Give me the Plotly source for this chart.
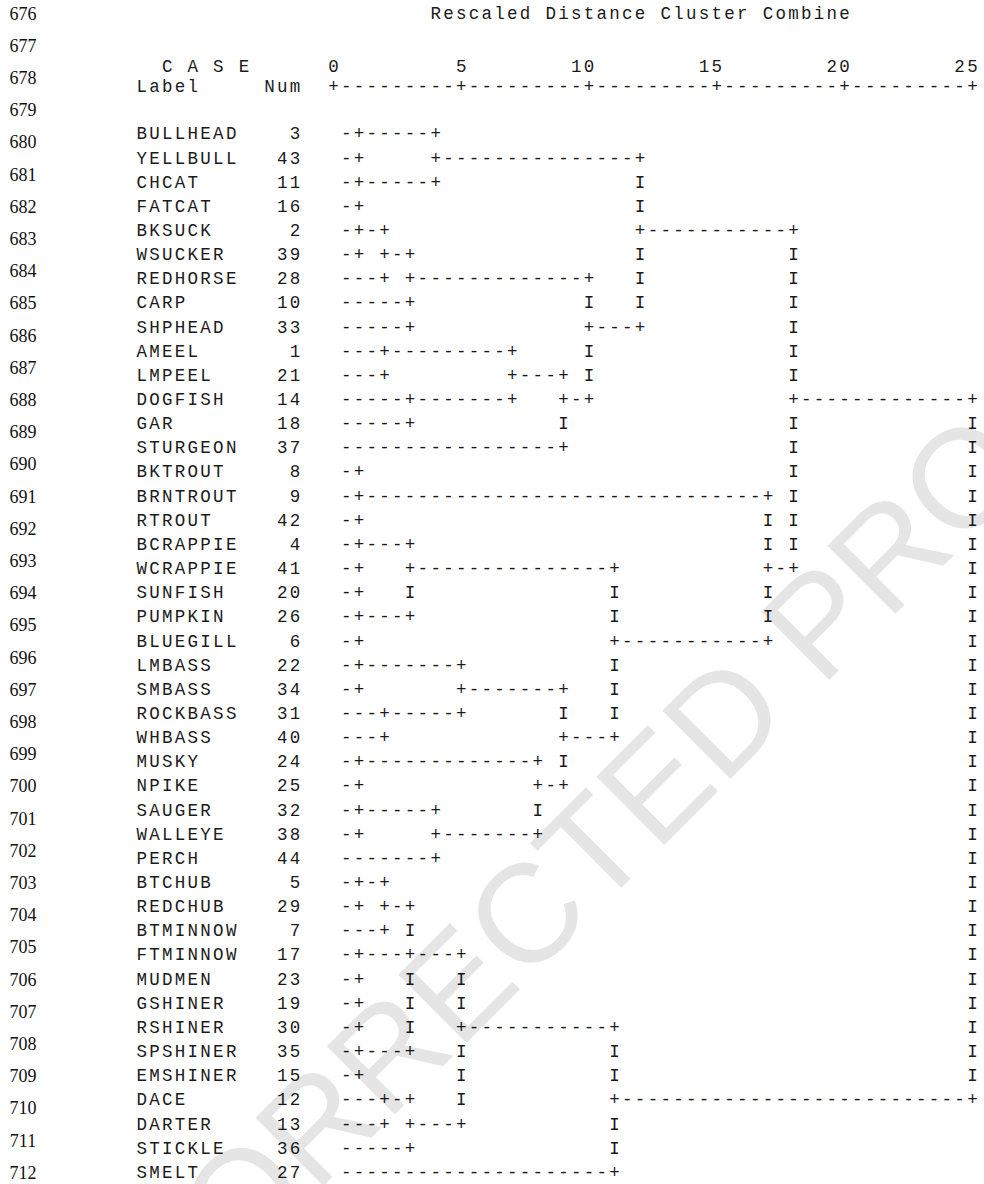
import plotly.graph_objects as go

# ---- data -------------------------------------------------------------
title = "Rescaled Distance Cluster Combine"
scale_ticks = ["0", "5", "10", "15", "20", "25"]
line_numbers = list(range(676, 713))

labels = ["BULLHEAD", "YELLBULL", "CHCAT", "FATCAT", "BKSUCK", "WSUCKER",
          "REDHORSE", "CARP", "SHPHEAD", "AMEEL", "LMPEEL", "DOGFISH", "GAR",
          "STURGEON", "BKTROUT", "BRNTROUT", "RTROUT", "BCRAPPIE", "WCRAPPIE",
          "SUNFISH", "PUMPKIN", "BLUEGILL", "LMBASS", "SMBASS", "ROCKBASS",
          "WHBASS", "MUSKY", "NPIKE", "SAUGER", "WALLEYE", "PERCH", "BTCHUB",
          "REDCHUB", "BTMINNOW", "FTMINNOW", "MUDMEN", "GSHINER", "RSHINER",
          "SPSHINER", "EMSHINER", "DACE", "DARTER", "STICKLE", "SMELT"]

nums = [3, 43, 11, 16, 2, 39, 28, 10, 33, 1, 21, 14, 18, 37, 8, 9, 42, 4, 41,
        20, 26, 6, 22, 34, 31, 40, 24, 25, 32, 38, 44, 5, 29, 7, 17, 23, 19,
        30, 35, 15, 12, 13, 36, 27]

# ASCII dendrogram, one string per case (column 1 .. 50 of the distance scale)
tree_rows = [
    "-+-----+",
    "-+" + " " * 5 + "+" + "-" * 15 + "+",
    "-+-----+" + " " * 15 + "I",
    "-+" + " " * 21 + "I",
    "-+-+" + " " * 19 + "+" + "-" * 11 + "+",
    "-+ +-+" + " " * 17 + "I" + " " * 11 + "I",
    "---+ +" + "-" * 13 + "+" + " " * 3 + "I" + " " * 11 + "I",
    "-----+" + " " * 13 + "I" + " " * 3 + "I" + " " * 11 + "I",
    "-----+" + " " * 13 + "+---+" + " " * 11 + "I",
    "---+" + "-" * 9 + "+" + " " * 5 + "I" + " " * 15 + "I",
    "---+" + " " * 9 + "+---+ I" + " " * 15 + "I",
    "-----+" + "-" * 7 + "+" + " " * 3 + "+-+" + " " * 15 + "+" + "-" * 13 + "+",
    "-----+" + " " * 11 + "I" + " " * 17 + "I" + " " * 13 + "I",
    "-" * 17 + "+" + " " * 17 + "I" + " " * 13 + "I",
    "-+" + " " * 33 + "I" + " " * 13 + "I",
    "-+" + "-" * 31 + "+ I" + " " * 13 + "I",
    "-+" + " " * 31 + "I I" + " " * 13 + "I",
    "-+---+" + " " * 27 + "I I" + " " * 13 + "I",
    "-+   +" + "-" * 15 + "+" + " " * 11 + "+-+" + " " * 13 + "I",
    "-+   I" + " " * 15 + "I" + " " * 11 + "I" + " " * 15 + "I",
    "-+---+" + " " * 15 + "I" + " " * 11 + "I" + " " * 15 + "I",
    "-+" + " " * 19 + "+" + "-" * 11 + "+" + " " * 15 + "I",
    "-+-------+" + " " * 11 + "I" + " " * 27 + "I",
    "-+       +-------+" + " " * 3 + "I" + " " * 27 + "I",
    "---+-----+" + " " * 7 + "I" + " " * 3 + "I" + " " * 27 + "I",
    "---+" + " " * 13 + "+---+" + " " * 27 + "I",
    "-+-------------+ I" + " " * 31 + "I",
    "-+" + " " * 13 + "+-+" + " " * 31 + "I",
    "-+-----+" + " " * 7 + "I" + " " * 33 + "I",
    "-+     +-------+" + " " * 33 + "I",
    "-------+" + " " * 41 + "I",
    "-+-+" + " " * 45 + "I",
    "-+ +-+" + " " * 43 + "I",
    "---+ I" + " " * 43 + "I",
    "-+---+---+" + " " * 39 + "I",
    "-+   I   I" + " " * 39 + "I",
    "-+   I   I" + " " * 39 + "I",
    "-+   I   +-----------+" + " " * 27 + "I",
    "-+---+   I           I" + " " * 27 + "I",
    "-+       I           I" + " " * 27 + "I",
    "---+-+   I           +" + "-" * 27 + "+",
    "---+ +---+           I",
    "-----+               I",
    "-" * 21 + "+",
]

# ---- character grid ---------------------------------------------------
PITCH = 12.78      # width of one monospace cell
COL0 = 333.4       # centre of scale column 0
ROW0 = 135.0       # first case row
ROW_STEP = 24.15

xs, ys, chars = [], [], []


def put(text, col, y):
    for i, ch in enumerate(text):
        if ch != " ":
            xs.append(COL0 + (col + i) * PITCH)
            ys.append(y)
            chars.append(ch)


put(title, 8, 15)
put("C A S E", -13, 68)
for k, t in enumerate(scale_ticks):
    put(t, 10 * k - len(t) + 1, 68)
put("Label", -15, 88)
put("Num", -5, 88)
put("+" + ("-" * 9 + "+") * 5, 0, 88)

for i, (lab, n, row) in enumerate(zip(labels, nums, tree_rows)):
    y = ROW0 + i * ROW_STEP
    s = str(n)
    put(lab, -15, y)
    put(s, -2 - len(s), y)
    put(row, 1, y)

mono = "Courier New, Nimbus Mono PS, Nimbus Mono L, FreeMono, Liberation Mono, monospace"

fig = go.Figure()
fig.add_trace(go.Scatter(
    x=xs, y=ys, text=chars, mode="text", textposition="middle center",
    textfont=dict(family=mono, size=17.5, color="#1a1a1a"),
    hoverinfo="skip", showlegend=False))

# margin line numbers of the page
fig.add_trace(go.Scatter(
    x=[23] * len(line_numbers),
    y=[15 + k * 32.2 for k in range(len(line_numbers))],
    text=[str(v) for v in line_numbers], mode="text",
    textposition="middle center",
    textfont=dict(family="Times New Roman, Liberation Serif, serif", size=18,
                  color="#111"),
    hoverinfo="skip", showlegend=False))

fig.add_annotation(
    text="UNCORRECTED PROOF", x=564 / 984, y=1 - 876 / 1184,
    xref="paper", yref="paper", xanchor="center", yanchor="middle",
    showarrow=False, textangle=-45,
    font=dict(family="Arial, Liberation Sans, sans-serif", size=140,
              color="rgba(0,0,0,0.1)"))

fig.update_layout(
    width=984, height=1184, margin=dict(l=0, r=0, t=0, b=0),
    paper_bgcolor="white", plot_bgcolor="white",
    xaxis=dict(range=[0, 984], visible=False, fixedrange=True),
    yaxis=dict(range=[1184, 0], visible=False, fixedrange=True),
)

fig.write_html("out.html")
